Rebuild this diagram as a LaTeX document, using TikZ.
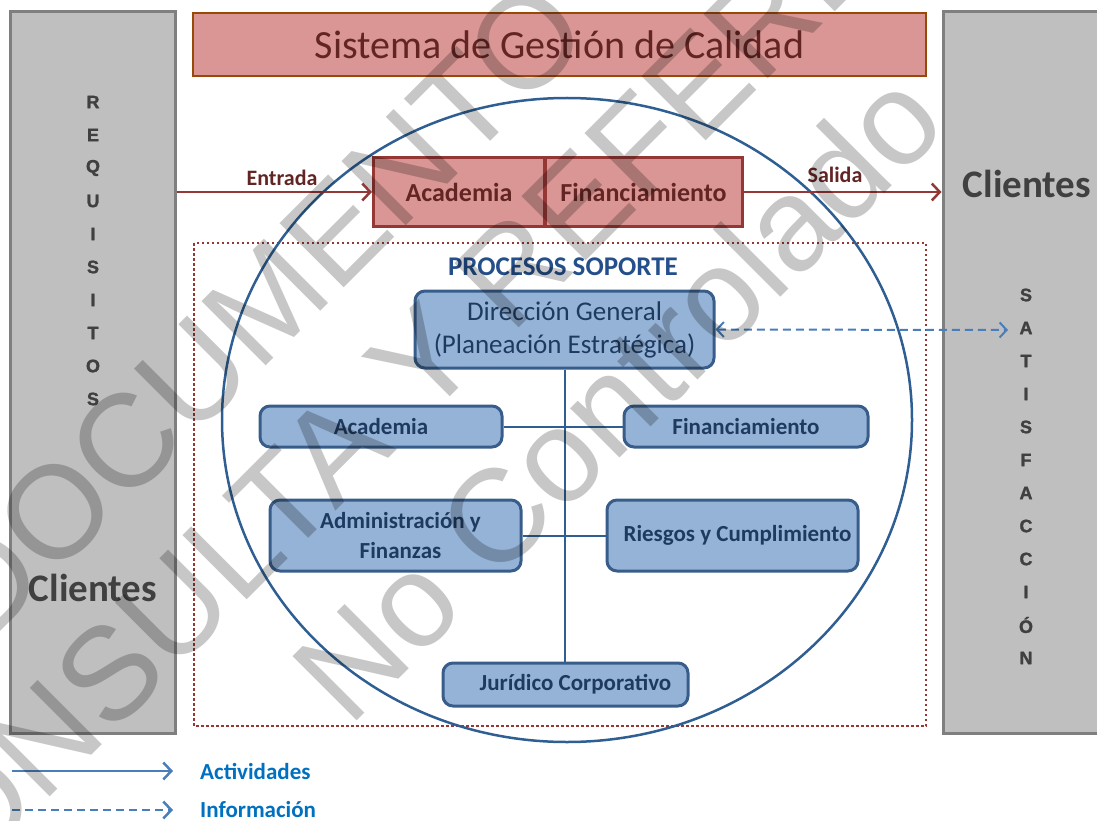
\documentclass[tikz,border=0pt]{standalone}
\usepackage{fontspec}
\setmainfont{Carlito}
\newfontfamily\arialf{Liberation Sans}
\newfontfamily\heavyf{Liberation Sans}[BoldFeatures={FakeBold=1.5}]
\usetikzlibrary{arrows.meta}
\definecolor{boxgray}{HTML}{BFBFBF}
\definecolor{edgegray}{HTML}{7F7F7F}
\definecolor{redfill}{HTML}{D99694}
\definecolor{titleedge}{HTML}{984807}
\definecolor{rededge}{HTML}{953735}
\definecolor{redtext}{HTML}{632523}
\definecolor{bluefill}{HTML}{95B3D7}
\definecolor{blueedge}{HTML}{385D8A}
\definecolor{bluetext}{HTML}{1F3A60}
\definecolor{circblue}{HTML}{2F5F92}
\definecolor{infoblue}{HTML}{4A7EBB}
\definecolor{legtext}{HTML}{0070C0}
\definecolor{headblue}{HTML}{244F8A}
\definecolor{lettergray}{HTML}{404040}
\newcommand\myfs[1]{\fontsize{#1}{#1}\selectfont}
\tikzset{
  graybox/.style={draw=edgegray, fill=boxgray, line width=3pt, inner sep=0pt},
  vlet/.style={font=\heavyf\bfseries\myfs{18}, text=lettergray, inner sep=0pt},
  clientlbl/.style={font=\bfseries\myfs{39}, text=lettergray, inner sep=0pt},
  redbox/.style={draw=rededge, fill=redfill, line width=3pt, inner sep=0pt,
    font=\bfseries\myfs{26}, text=redtext},
  bluebox/.style={draw=blueedge, fill=bluefill, line width=3pt, rounded corners=10pt,
    inner sep=0pt, font=\bfseries\myfs{23}, text=bluetext, align=center},
  flowlbl/.style={font=\bfseries\myfs{22}, text=redtext, inner sep=0pt},
  flowarrow/.style={draw=rededge, line width=2.5pt, -{Straight Barb[length=8pt,width=17pt]}},
  orgline/.style={draw=circblue, line width=2pt},
  legarrow/.style={draw=infoblue, line width=2.5pt, -{Straight Barb[length=8pt,width=17pt]}},
  leglbl/.style={font=\bfseries\myfs{23}, text=legtext, inner sep=0pt, anchor=west},
  wmark/.style={font=\arialf\myfs{132}, text=black, text opacity=0.22, inner sep=0pt,
    rotate=45, anchor=base}
}
\begin{document}
\begin{tikzpicture}[x=1pt,y=-1pt]
\useasboundingbox (0,0) rectangle (1097,821);

% side boxes
\node[graybox, minimum width=165pt, minimum height=721pt] (lbox) at (92.5,372.5) {};
\node[graybox, minimum width=170pt, minimum height=721pt] (rbox) at (1028,372.5) {};
\foreach \l [count=\i] in {R,E,Q,U,I,S,I,T,O,S}
  \node[vlet] (req\i) at (93,69+33*\i) {\l};
\foreach \l [count=\i] in {S,A,T,I,S,F,A,C,C,I,Ó,N}
  \node[vlet] (sat\i) at (1026,262+33*\i) {\l};
\node[clientlbl] (cliL) at (93,588) {Clientes};
\node[clientlbl] (cliR) at (1027,184) {Clientes};

% title
\node[draw=titleedge, fill=redfill, line width=2pt, minimum width=733pt, minimum height=63pt,
  inner sep=0pt, font=\myfs{40}, text=redtext] (title) at (559.5,44.5) {Sistema de Gestión de Calidad};

% support area and circle
\draw[rededge, line width=2.5pt, dash pattern=on 2.5pt off 2.5pt] (194,243) rectangle (926,726);
\draw[circblue, line width=2.5pt] (567,420) ellipse [x radius=345, y radius=322];

% main processes
\node[redbox, minimum width=171pt, minimum height=68pt] (acadtop) at (459,192) {Academia};
\node[redbox, minimum width=197pt, minimum height=68pt] (fintop) at (643.5,192) {Financiamiento};

\draw[flowarrow] (lbox.east |- acadtop.west) -- (acadtop.west);
\draw[flowarrow] (fintop.east) -- (rbox.west |- fintop.east);
\node[flowlbl] (entlbl) at (282,178) {Entrada};
\node[flowlbl] (sallbl) at (835,175) {Salida};

\node[font=\bfseries\myfs{27}, text=headblue, inner sep=0pt] (proc) at (563,267) {PROCESOS SOPORTE};

% support boxes
\node[bluebox, minimum width=299pt, minimum height=77pt, font=\myfs{27}] (dir) at (564.5,329.5)
  {Dirección General\\[6pt](Planeación Estratégica)};
\node[bluebox, minimum width=242pt, minimum height=41pt] (acad) at (381,426.5) {Academia};
\node[bluebox, minimum width=244pt, minimum height=41pt] (fin) at (746,426.5) {Financiamiento};
\node[bluebox, minimum width=251pt, minimum height=71pt] (adm) at (395.5,535.5)
  {\hspace*{10pt}Administración  y\\[7pt]\hspace*{10pt}Finanzas};
\node[bluebox, minimum width=251pt, minimum height=71pt] (rie) at (732.5,535.5) {\hspace*{10pt}Riesgos y Cumplimiento};
\node[bluebox, minimum width=245pt, minimum height=43pt] (jur) at (565.5,684.5) {\hspace*{20pt}Jurídico Corporativo};

\draw[orgline] (dir.south) -- (dir.south |- jur.north);
\draw[orgline] (acad.east) -- (fin.west);
\draw[orgline] (adm.east) -- (rie.west);

\coordinate (satpt) at (1008,330);
\draw[draw=infoblue, line width=2pt, dash pattern=on 8pt off 5pt,
  {Straight Barb[length=7pt,width=15pt]}-{Straight Barb[length=7pt,width=15pt]}] (dir.east) -- (satpt);

% legend
\coordinate (la1) at (12,771);
\coordinate (la2) at (173,771);
\coordinate (lb1) at (12,810);
\coordinate (lb2) at (173,810);
\draw[legarrow] (la1) -- (la2);
\draw[legarrow, dash pattern=on 8pt off 5pt] (lb1) -- (lb2);
\node[leglbl] (legA) at (200,771) {Actividades};
\node[leglbl] (legB) at (200,810) {Información};

% watermark
\begin{scope}
\clip (0,0) rectangle (1097,821);
\node[wmark] (wm1) at (289,343) {DOCUMENTO};
\node[wmark] (wm2) at (508,339) {CONSULTA Y REFERENCIA};
\node[wmark] (wm3) at (650,428) {No Controlado};
\end{scope}
\end{tikzpicture}
\end{document}
